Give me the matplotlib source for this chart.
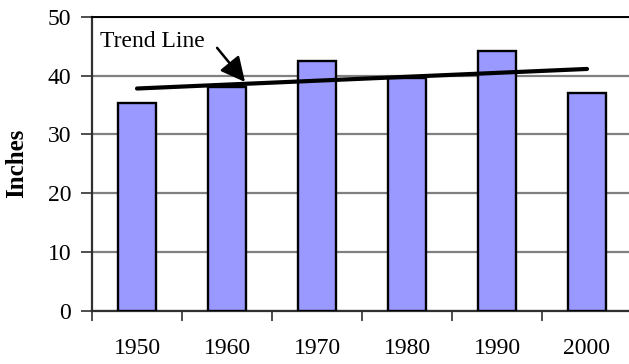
import numpy as np
import matplotlib
matplotlib.use("Agg")
import matplotlib.pyplot as plt                 # noqa: E402
from matplotlib.patches import FancyArrowPatch  # noqa: E402

# decade rainfall totals (inches)
years = ["1950", "1960", "1970", "1980", "1990", "2000"]
inches = [35.4, 38.1, 42.5, 39.5, 44.2, 37.0]
y_ticks = [0, 10, 20, 30, 40, 50]

BAR, EDGE, GRID = "#9999ff", "#000000", "#808080"
plt.rcParams["font.family"] = ["Liberation Serif", "DejaVu Serif"]

W, H = 629, 364
fig = plt.figure(figsize=(W / 100, H / 100), dpi=100)
# axes spans 6 categories of 90 px from x=92; it runs a few px past the right edge
ax = fig.add_axes([92 / W, 1 - 310.7 / H, 540 / W, (310.7 - 16.7) / H])

x = np.arange(len(years))
ax.bar(x, inches, width=0.43, color=BAR, edgecolor=EDGE, lw=1.7, zorder=3)

# least-squares trend over the bars
k, b = np.polyfit(x, inches, 1)
ax.plot([x[0], x[-1]], [k * x[0] + b, k * x[-1] + b], color="black", lw=3,
        solid_capstyle="round", zorder=4)

ax.add_patch(FancyArrowPatch((0.89, 44.7), (1.2, 38.9), arrowstyle="-|>,head_length=1.5,head_width=0.75",
                             mutation_scale=10, lw=1.8, color="black", zorder=5,
                             shrinkA=0, shrinkB=0))
ax.text(-0.41, 45.7, "Trend Line", fontsize=17, ha="left", va="center", zorder=5)

ax.set_xlim(-0.5, len(years) - 0.5)
ax.set_ylim(0, 50)
ax.set_yticks(y_ticks)
ax.set_xticks(x)
ax.set_xticklabels(years)
ax.set_xticks(np.arange(len(years) + 1) - 0.5, minor=True)
ax.tick_params(axis="x", which="major", length=0, pad=20, labelsize=17)
ax.tick_params(axis="x", which="minor", length=7, width=1.3, color="#404040")
ax.tick_params(axis="y", length=8, width=1.3, color="#404040", pad=7, labelsize=17)
ax.yaxis.grid(True, color=GRID, lw=1.6, zorder=0)
ax.set_axisbelow(True)

ax.spines["right"].set_visible(False)
ax.spines["top"].set_linewidth(1.4)
for s in ("left", "bottom"):
    ax.spines[s].set_linewidth(1.6)
    ax.spines[s].set_color("#303030")

fig.text(17 / W, 1 - 163 / H, "Inches", rotation=90, fontsize=18, fontweight="bold",
         ha="center", va="center")

fig.savefig("out.png", dpi=100)
